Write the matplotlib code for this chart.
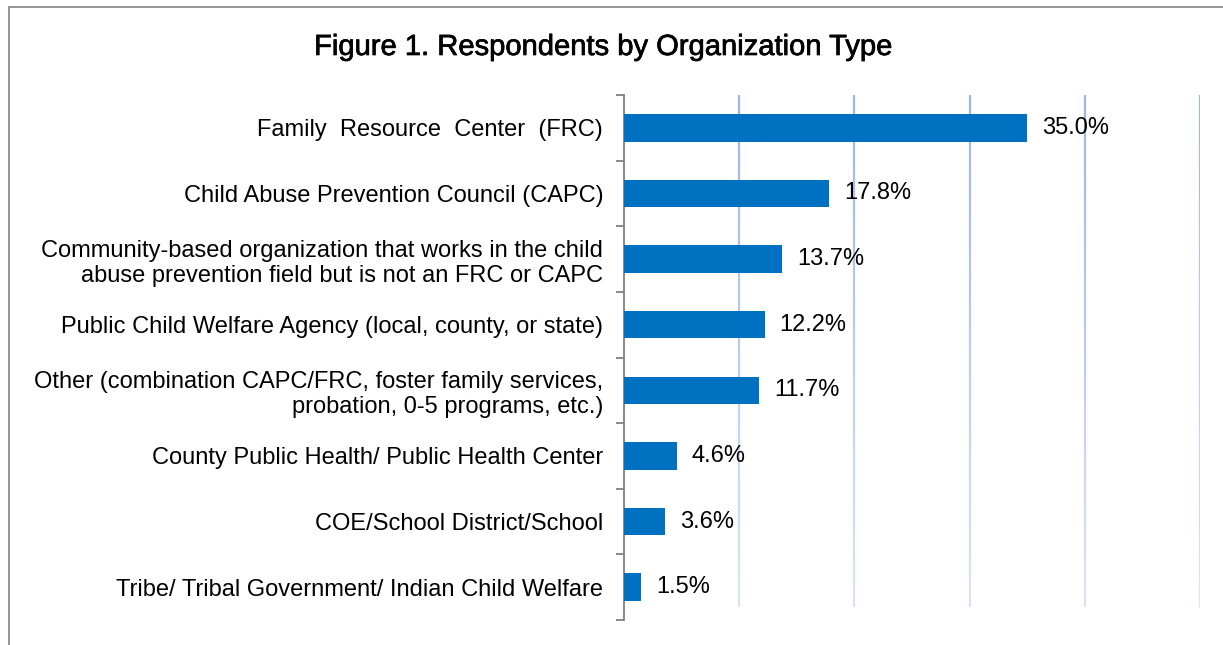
import numpy as np
import matplotlib
matplotlib.use("Agg")
import matplotlib.pyplot as plt
import matplotlib.patheffects as pe
from matplotlib.patches import Rectangle

plt.rcParams['font.family'] = ['Liberation Sans', 'DejaVu Sans']

categories = [
    "Family  Resource  Center  (FRC)",
    "Child Abuse Prevention Council (CAPC)",
    "Community-based organization that works in the child\nabuse prevention field but is not an FRC or CAPC",
    "Public Child Welfare Agency (local, county, or state)",
    "Other (combination CAPC/FRC, foster family services,\nprobation, 0-5 programs, etc.)",
    "County Public Health/ Public Health Center",
    "COE/School District/School",
    "Tribe/ Tribal Government/ Indian Child Welfare",
]
values = [35.0, 17.8, 13.7, 12.2, 11.7, 4.6, 3.6, 1.5]
xticks = [10, 20, 30, 40, 50]

W, H = 1223, 645
fig = plt.figure(figsize=(W / 100, H / 100), dpi=100)

# axes placed in pixel terms: x 624..1200, y 95..620
ax = fig.add_axes([624 / W, 1 - 620 / H, (1200 - 624) / W, (620 - 95) / H])

n = len(categories)
pos = np.arange(n)
ax.barh(pos, values, height=0.42, color="#0070C0", zorder=3)
ax.set_ylim(n - 0.5, -0.5)
ax.set_xlim(0, 50)

# gridlines fading toward the bottom
for xv in xticks:
    segs = 20
    y0, y1 = -0.5, n - 0.5 - 0.2
    edges = np.linspace(y0, y1, segs + 1)
    for i in range(segs):
        a = 1.0 - 0.65 * i / segs
        ax.plot([xv, xv], [edges[i], edges[i + 1]], color="#9DB7E6", alpha=a,
                lw=1.6, solid_capstyle="butt", zorder=1)

for p, v in zip(pos, values):
    ax.text(v + 1.3, p, f"{v:.1f}%", va="center", ha="left", fontsize=17, color="black", zorder=4)

ax.set_yticks(pos)
ax.set_yticklabels(categories, fontsize=17, ha="right", linespacing=1.2)
ax.tick_params(axis="y", which="major", length=0, pad=15)
ax.set_yticks(np.arange(-0.5, n, 1.0), minor=True)
ax.tick_params(axis="y", which="minor", length=5.5, width=1.3, color="#808080", direction="out")
ax.set_xticks([])

for s in ["top", "right", "bottom"]:
    ax.spines[s].set_visible(False)
ax.spines["left"].set_color("#808080")
ax.spines["left"].set_linewidth(1.3)

fig.text(603 / W, 1 - 47 / H, "Figure 1. Respondents by Organization Type",
         ha="center", va="center", fontsize=21, color="black",
         path_effects=[pe.withStroke(linewidth=0.5, foreground="black")])

# outer frame
fig.patches.append(Rectangle((9 / W, -0.1), 1.2, 1 - 7 / H + 0.1, transform=fig.transFigure,
                             fill=False, edgecolor="#8C8C8C", lw=1.3))

fig.savefig("out.png", dpi=100)
